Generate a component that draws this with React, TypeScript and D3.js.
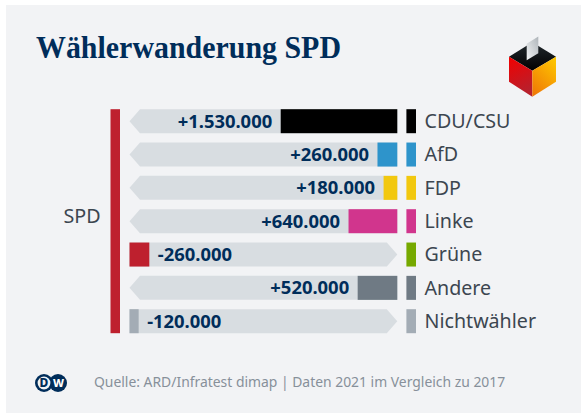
import React from "react";
import * as d3 from "d3";

const parties = ["CDU/CSU", "AfD", "FDP", "Linke", "Grüne", "Andere", "Nichtwähler"];
const values = [1530000, 260000, 180000, 640000, -260000, 520000, -120000];
const valueLabels = ["+1.530.000", "+260.000", "+180.000", "+640.000", "-260.000", "+520.000", "-120.000"];
const barColors = ["#000000", "#2e94cb", "#f2c80f", "#d1358d", "#be202e", "#6f7a84", "#a3acb5"];
const swatchColors = ["#000000", "#2e94cb", "#f2c80f", "#d1358d", "#76a900", "#6f7a84", "#a3acb5"];

const NAVY = "#002d5a";
const SANS = "'Noto Sans','Open Sans',sans-serif";
const L = 129.5, R = 397.3, NOTCH = 10.5;

export default function App() {
  const y = d3.scaleBand<number>().domain(d3.range(parties.length)).range([109.2, 333.2]).paddingInner(0.28).paddingOuter(0);
  const w = d3.scaleLinear().domain([0, 1530000]).range([0, 116.6]);
  return (
    <svg width={581} height={413} style={{ position: "fixed", left: 0, top: 0, display: "block" }}>
      <defs>
        <linearGradient id="boxL" x1="0" y1="0" x2="0.3" y2="1">
          <stop offset="0" stopColor="#f20000" />
          <stop offset="1" stopColor="#b8202c" />
        </linearGradient>
        <linearGradient id="boxR" x1="0.8" y1="0" x2="0.2" y2="1">
          <stop offset="0" stopColor="#fdc400" />
          <stop offset="1" stopColor="#f07a06" />
        </linearGradient>
        <linearGradient id="boxT" x1="0" y1="0" x2="0" y2="1">
          <stop offset="0" stopColor="#22292e" />
          <stop offset="1" stopColor="#000000" />
        </linearGradient>
        <linearGradient id="ballot" x1="0" y1="1" x2="1" y2="0">
          <stop offset="0" stopColor="#f2f4f5" />
          <stop offset="1" stopColor="#aeb4b9" />
        </linearGradient>
      </defs>
      <rect x={0} y={0} width={581} height={413} fill="#ffffff" />
      <rect x={6} y={5} width={575} height={408} fill="#f2f3f5" />
      <text x={36} y={57.5} fontFamily="'Liberation Serif',serif" fontWeight={700} fontSize={31} fill={NAVY} textLength={305} lengthAdjust="spacingAndGlyphs">Wählerwanderung SPD</text>

      <polygon points="509,56.7 532.3,42.3 556,56.7 532.3,70.7" fill="url(#boxT)" />
      <polygon points="509,56.7 532.3,70.7 532.3,96.7 509,81.7" fill="url(#boxL)" />
      <polygon points="556,56.7 532.3,70.7 532.3,96.7 556,81.7" fill="url(#boxR)" />
      <polygon points="526.7,43.8 538.3,36.5 538.3,53.3 526.7,60.2" fill="url(#ballot)" />

      <rect x={110.5} y={109.2} width={9.5} height={224} fill="#be202e" />
      <text x={100.5} y={222.8} textAnchor="end" fontFamily={SANS} fontSize={19.7} fill="#3c4650">SPD</text>

      {parties.map((p, i) => {
        const v = values[i];
        const t = y(i)!, h = y.bandwidth(), m = t + h / 2, bw = w(Math.abs(v));
        const bg = v > 0
          ? `${L + NOTCH},${t} ${R},${t} ${R},${t + h} ${L + NOTCH},${t + h} ${L},${m}`
          : `${L},${t} ${R - NOTCH},${t} ${R},${m} ${R - NOTCH},${t + h} ${L},${t + h}`;
        const bx = v > 0 ? R - bw : L;
        return (
          <g key={p}>
            <polygon points={bg} fill="#d8dde1" />
            <rect x={bx} y={t} width={bw} height={h} fill={barColors[i]} />
            <text x={v > 0 ? bx - 8.5 : L + bw + 8.5} y={m + 6.3} textAnchor={v > 0 ? "end" : "start"} fontFamily={SANS} fontWeight={700} fontSize={18.4} fill={NAVY}>{valueLabels[i]}</text>
            <rect x={406.4} y={t} width={9.6} height={h} fill={swatchColors[i]} />
            <text x={424.5} y={m + 6.8} fontFamily={SANS} fontSize={19.65} fill="#3c4650">{p}</text>
          </g>
        );
      })}

      <circle cx={44} cy={383} r={9} fill={NAVY} />
      <circle cx={58} cy={383} r={9} fill={NAVY} />
      <circle cx={44} cy={383} r={6.4} fill="#f2f3f5" />
      <text x={44} y={387.2} textAnchor="middle" fontFamily={SANS} fontWeight={800} fontSize={12} fill={NAVY}>D</text>
      <text x={58.5} y={387} textAnchor="middle" fontFamily={SANS} fontWeight={800} fontSize={11} fill="#ffffff">W</text>

      <text x={94} y={386.5} fontFamily={SANS} fontSize={13.9} fill="#87909a">Quelle: ARD/Infratest dimap | Daten 2021 im Vergleich zu 2017</text>
    </svg>
  );
}
